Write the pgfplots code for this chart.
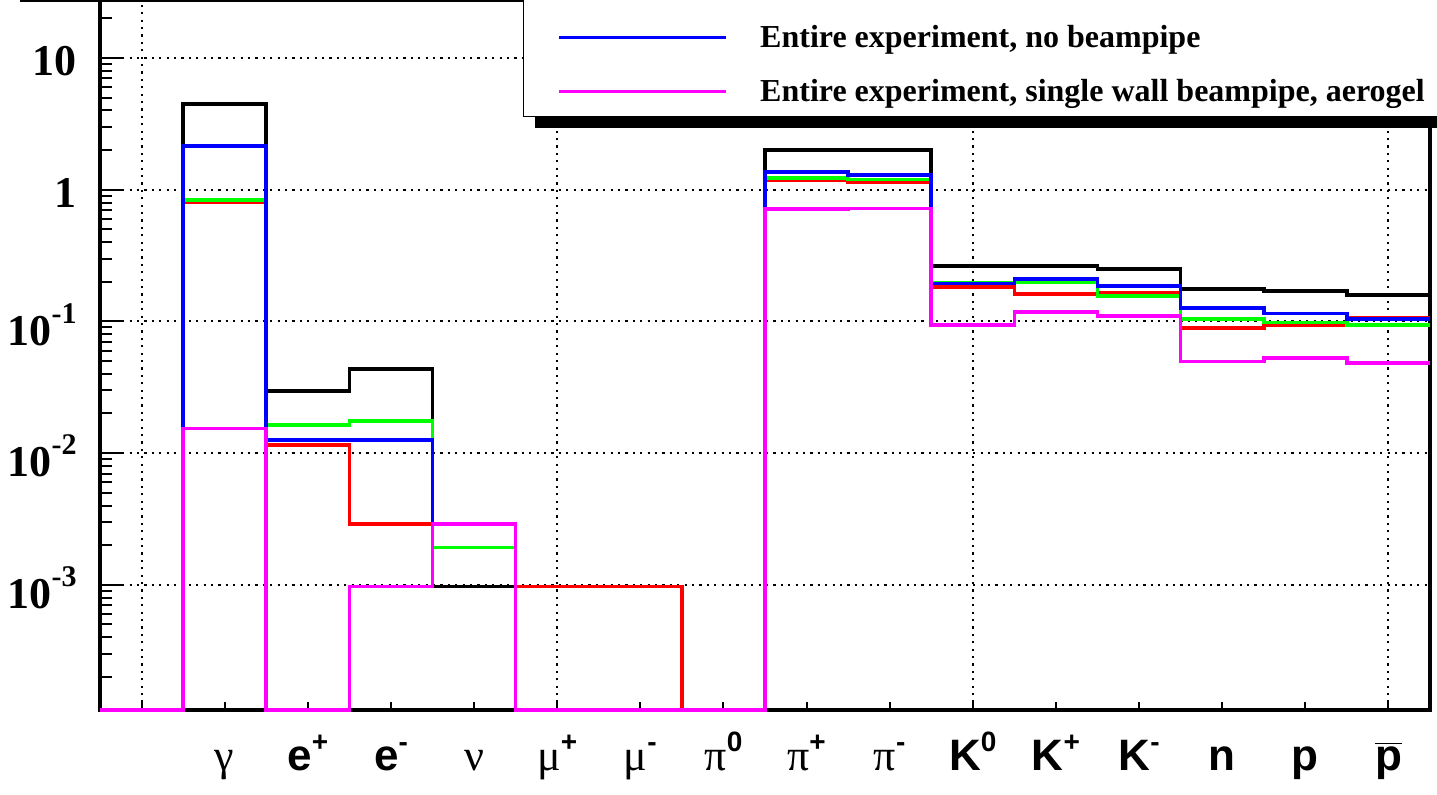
\documentclass[border=0pt]{standalone}
\usepackage{fontspec}
\setmainfont{Liberation Serif}
\setsansfont{Liberation Sans}
\usepackage{pgfplots}
\pgfplotsset{compat=1.18}

\definecolor{rmag}{RGB}{255,0,255}
\definecolor{rgreen}{RGB}{0,255,0}
\newfontfamily\grk{Liberation Serif}
% superscripts for the x (sans) and y (serif) tick labels
\newcommand\sx[1]{\raisebox{0.42em}{\fontsize{14}{14}\selectfont\sffamily\bfseries #1}}
\newcommand\sy[1]{\raisebox{0.5em}{\fontsize{15}{15}\selectfont\bfseries #1}}
\newcommand\g[1]{{\grk\mdseries #1}}

\begin{document}
\begin{tikzpicture}
\useasboundingbox (-50pt,-42pt) rectangle (668.5pt,355pt);
\begin{axis}[
  at={(0,0)}, anchor=south west,
  scale only axis, width=665pt, height=355pt,
  xmin=-0.5, xmax=15.5,
  ymode=log, ymin=1.12e-4, ymax=27.6,
  clip=false,
  axis line style={line width=2.2pt},
  tick align=inside, xtick pos=bottom, ytick pos=left,
  tick style={black, line width=1pt},
  major tick length=4pt, minor tick length=6pt,
  xtick={0,...,15},
  xticklabels={{},\g{γ},e\sx{+},e\sx{-},\g{ν},\g{μ}\sx{+},\g{μ}\sx{-},
    \g{π}\sx{0},\g{π}\sx{+},\g{π}\sx{-},K\sx{0},K\sx{+},K\sx{-},n,p,
    \ensuremath{\overline{\hbox{p}}}},
  xticklabel style={font=\sffamily\bfseries\fontsize{22}{22}\selectfont,
    anchor=base, inner sep=0pt, yshift=-30pt},
  extra x ticks={0,5,10,15}, extra x tick labels={},
  extra x tick style={grid=major},
  ytick={1e-3,1e-2,1e-1,1,10},
  yticklabels={10\sy{-3},10\sy{-2},10\sy{-1},1,10},
  minor ytick={2e-4,3e-4,4e-4,5e-4,6e-4,7e-4,8e-4,9e-4,
    2e-3,3e-3,4e-3,5e-3,6e-3,7e-3,8e-3,9e-3,
    2e-2,3e-2,4e-2,5e-2,6e-2,7e-2,8e-2,9e-2,
    0.2,0.3,0.4,0.5,0.6,0.7,0.8,0.9,2,3,4,5,6,7,8,9,20},
  yticklabel style={font=\bfseries\fontsize{22}{22}\selectfont,
    anchor=east, inner sep=0pt, xshift=-11.5pt, yshift=-1.5pt},
  extra y ticks={1e-3,1e-2,1e-1,1,10}, extra y tick labels={},
  extra y tick style={major tick length=11pt},
  ymajorgrids=true,
  grid style={black, line width=1pt, dash pattern=on 1.1pt off 2.6pt},
  every axis plot/.append style={line width=1.8pt},
  legend cell align=left,
  legend image code/.code={\draw[#1] (0pt,0pt) -- (83.5pt,0pt);},
  legend style={at={(axis description cs:0.318,0.835)}, anchor=south west,
    draw=black, line width=0.7pt, fill=white,
    font=\bfseries\fontsize{16}{18}\selectfont,
    inner xsep=17pt, inner ysep=0pt, row sep=2pt, column sep=16pt,
    nodes={inner sep=0pt, minimum height=25pt}},
]
\addlegendimage{empty legend}\addlegendentry{}
\addplot[black, const plot mark left, forget plot] coordinates {
  (-0.5,1.12e-4)(0.5,4.48)(1.5,0.0297)(2.5,0.0436)(3.5,0.00097)(4.5,1.12e-4)
  (5.5,1.12e-4)(6.5,1.12e-4)(7.5,2.0)(8.5,2.0)(9.5,0.264)(10.5,0.264)
  (11.5,0.25)(12.5,0.177)(13.5,0.17)(14.5,0.159)(15.5,0.159)};
\addplot[red, const plot mark left, forget plot] coordinates {
  (-0.5,1.12e-4)(0.5,0.798)(1.5,0.0115)(2.5,0.00289)(3.5,0.00289)(4.5,0.00097)
  (5.5,0.00097)(6.5,1.12e-4)(7.5,1.18)(8.5,1.15)(9.5,0.183)(10.5,0.162)
  (11.5,0.164)(12.5,0.0893)(13.5,0.094)(14.5,0.107)(15.5,0.107)};
\addplot[rgreen, const plot mark left, forget plot] coordinates {
  (-0.5,1.12e-4)(0.5,0.836)(1.5,0.0164)(2.5,0.0176)(3.5,0.00192)(4.5,1.12e-4)
  (5.5,1.12e-4)(6.5,1.12e-4)(7.5,1.23)(8.5,1.20)(9.5,0.196)(10.5,0.198)
  (11.5,0.156)(12.5,0.1045)(13.5,0.098)(14.5,0.0936)(15.5,0.0936)};
\addplot[blue, const plot mark left] coordinates {
  (-0.5,1.12e-4)(0.5,2.16)(1.5,0.0126)(2.5,0.0126)(3.5,0.00289)(4.5,1.12e-4)
  (5.5,1.12e-4)(6.5,1.12e-4)(7.5,1.357)(8.5,1.29)(9.5,0.194)(10.5,0.210)
  (11.5,0.185)(12.5,0.126)(13.5,0.115)(14.5,0.1045)(15.5,0.1045)};
\addlegendentry{Entire experiment, no beampipe}
\addplot[rmag, const plot mark left] coordinates {
  (-0.5,1.12e-4)(0.5,0.01535)(1.5,1.12e-4)(2.5,0.00097)(3.5,0.00289)(4.5,1.12e-4)
  (5.5,1.12e-4)(6.5,1.12e-4)(7.5,0.711)(8.5,0.72)(9.5,0.094)(10.5,0.118)
  (11.5,0.110)(12.5,0.0496)(13.5,0.0525)(14.5,0.0486)(15.5,0.0486)};
\addlegendentry{Entire experiment, single wall beampipe, aerogel}
% legend shadow, drawn before the legend box
\fill[black] (axis description cs:0.327,0.8197) rectangle (axis description cs:1.1,1.1);
\end{axis}
\draw[line width=2.2pt] (-40pt,355pt) -- (211pt,355pt);
\end{tikzpicture}
\end{document}
